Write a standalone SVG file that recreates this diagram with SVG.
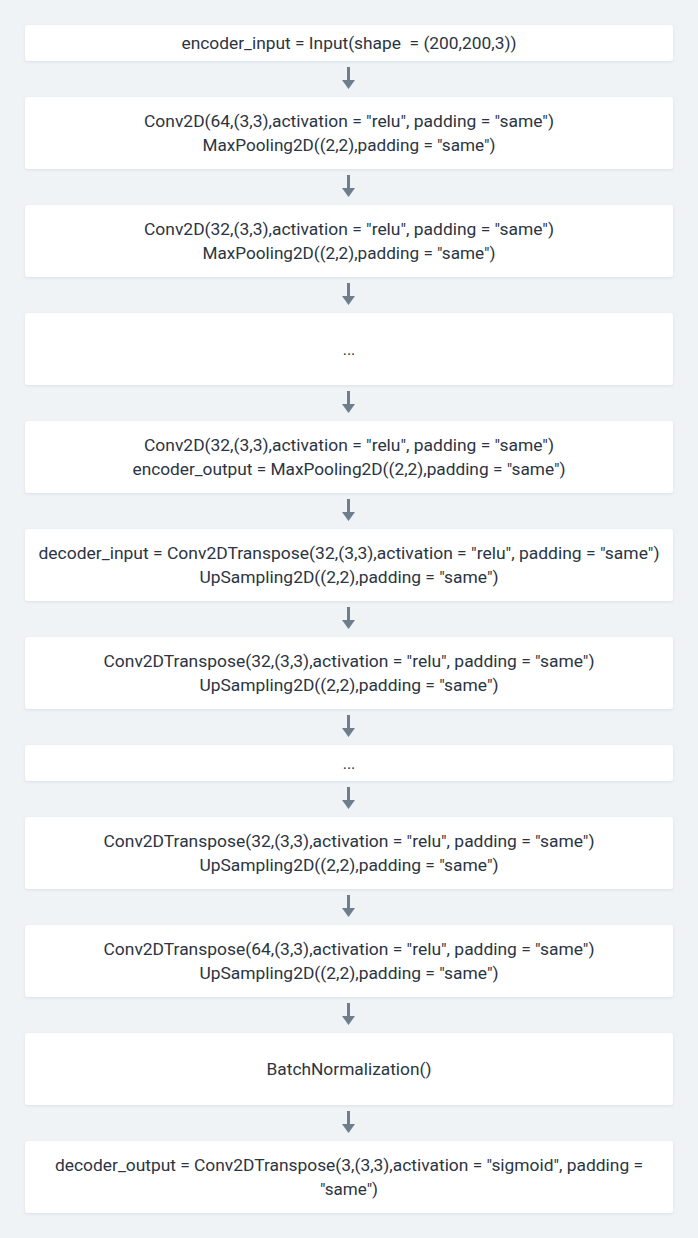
<svg xmlns="http://www.w3.org/2000/svg" width="698" height="1238" viewBox="0 0 698 1238">
<style>
.bg{fill:#eff3f6}
.box{fill:#ffffff;filter:url(#sh)}
.t{font-family:Roboto,"Liberation Sans",sans-serif;font-size:16px;fill:#2b3442;text-anchor:middle;dominant-baseline:central;white-space:pre}
.ln{stroke:#6f7e8d;stroke-width:3;fill:none}
.hd{fill:#6f7e8d}
</style>
<defs>
<filter id="sh" x="-5%" y="-20%" width="110%" height="150%">
<feDropShadow dx="0" dy="1" stdDeviation="1.5" flood-color="#9aa8b8" flood-opacity="0.25"/>
</filter>
</defs>
<rect class="bg" x="0" y="0" width="698" height="1238"/>
<g id="connectors">
<g><line class="ln" x1="348.5" y1="67" x2="348.5" y2="81"/><polygon class="hd" points="342,80 355,80 348.5,89"/></g>
<g><line class="ln" x1="348.5" y1="175" x2="348.5" y2="189"/><polygon class="hd" points="342,188 355,188 348.5,197"/></g>
<g><line class="ln" x1="348.5" y1="283" x2="348.5" y2="297"/><polygon class="hd" points="342,296 355,296 348.5,305"/></g>
<g><line class="ln" x1="348.5" y1="391" x2="348.5" y2="405"/><polygon class="hd" points="342,404 355,404 348.5,413"/></g>
<g><line class="ln" x1="348.5" y1="499" x2="348.5" y2="513"/><polygon class="hd" points="342,512 355,512 348.5,521"/></g>
<g><line class="ln" x1="348.5" y1="607" x2="348.5" y2="621"/><polygon class="hd" points="342,620 355,620 348.5,629"/></g>
<g><line class="ln" x1="348.5" y1="715" x2="348.5" y2="729"/><polygon class="hd" points="342,728 355,728 348.5,737"/></g>
<g><line class="ln" x1="348.5" y1="787" x2="348.5" y2="801"/><polygon class="hd" points="342,800 355,800 348.5,809"/></g>
<g><line class="ln" x1="348.5" y1="895" x2="348.5" y2="909"/><polygon class="hd" points="342,908 355,908 348.5,917"/></g>
<g><line class="ln" x1="348.5" y1="1003" x2="348.5" y2="1017"/><polygon class="hd" points="342,1016 355,1016 348.5,1025"/></g>
<g><line class="ln" x1="348.5" y1="1111" x2="348.5" y2="1125"/><polygon class="hd" points="342,1124 355,1124 348.5,1133"/></g>
</g>
<g id="n1"><rect class="box" x="25" y="25" width="648" height="36" rx="3"/><text class="t" x="349" y="43" textLength="335" lengthAdjust="spacingAndGlyphs">encoder_input = Input(shape  = (200,200,3))</text></g>
<g id="n2"><rect class="box" x="25" y="97" width="648" height="72" rx="3"/><text class="t" x="349" y="121" textLength="410" lengthAdjust="spacingAndGlyphs">Conv2D(64,(3,3),activation = "relu", padding = "same")</text><text class="t" x="349" y="145" textLength="293" lengthAdjust="spacingAndGlyphs">MaxPooling2D((2,2),padding = "same")</text></g>
<g id="n3"><rect class="box" x="25" y="205" width="648" height="72" rx="3"/><text class="t" x="349" y="229" textLength="410" lengthAdjust="spacingAndGlyphs">Conv2D(32,(3,3),activation = "relu", padding = "same")</text><text class="t" x="349" y="253" textLength="293" lengthAdjust="spacingAndGlyphs">MaxPooling2D((2,2),padding = "same")</text></g>
<g id="n4"><rect class="box" x="25" y="313" width="648" height="72" rx="3"/><text class="t" x="349" y="349">...</text></g>
<g id="n5"><rect class="box" x="25" y="421" width="648" height="72" rx="3"/><text class="t" x="349" y="445" textLength="410" lengthAdjust="spacingAndGlyphs">Conv2D(32,(3,3),activation = "relu", padding = "same")</text><text class="t" x="349" y="469" textLength="433" lengthAdjust="spacingAndGlyphs">encoder_output = MaxPooling2D((2,2),padding = "same")</text></g>
<g id="n6"><rect class="box" x="25" y="529" width="648" height="72" rx="3"/><text class="t" x="349" y="553" textLength="621" lengthAdjust="spacingAndGlyphs">decoder_input = Conv2DTranspose(32,(3,3),activation = "relu", padding = "same")</text><text class="t" x="349" y="577" textLength="299" lengthAdjust="spacingAndGlyphs">UpSampling2D((2,2),padding = "same")</text></g>
<g id="n7"><rect class="box" x="25" y="637" width="648" height="72" rx="3"/><text class="t" x="349" y="661" textLength="491" lengthAdjust="spacingAndGlyphs">Conv2DTranspose(32,(3,3),activation = "relu", padding = "same")</text><text class="t" x="349" y="685" textLength="299" lengthAdjust="spacingAndGlyphs">UpSampling2D((2,2),padding = "same")</text></g>
<g id="n8"><rect class="box" x="25" y="745" width="648" height="36" rx="3"/><text class="t" x="349" y="763">...</text></g>
<g id="n9"><rect class="box" x="25" y="817" width="648" height="72" rx="3"/><text class="t" x="349" y="841" textLength="491" lengthAdjust="spacingAndGlyphs">Conv2DTranspose(32,(3,3),activation = "relu", padding = "same")</text><text class="t" x="349" y="865" textLength="299" lengthAdjust="spacingAndGlyphs">UpSampling2D((2,2),padding = "same")</text></g>
<g id="n10"><rect class="box" x="25" y="925" width="648" height="72" rx="3"/><text class="t" x="349" y="949" textLength="491" lengthAdjust="spacingAndGlyphs">Conv2DTranspose(64,(3,3),activation = "relu", padding = "same")</text><text class="t" x="349" y="973" textLength="299" lengthAdjust="spacingAndGlyphs">UpSampling2D((2,2),padding = "same")</text></g>
<g id="n11"><rect class="box" x="25" y="1033" width="648" height="72" rx="3"/><text class="t" x="349" y="1069" textLength="165" lengthAdjust="spacingAndGlyphs">BatchNormalization()</text></g>
<g id="n12"><rect class="box" x="25" y="1141" width="648" height="72" rx="3"/><text class="t" x="349" y="1165" textLength="588" lengthAdjust="spacingAndGlyphs">decoder_output = Conv2DTranspose(3,(3,3),activation = "sigmoid", padding =</text><text class="t" x="349" y="1189" textLength="58" lengthAdjust="spacingAndGlyphs">"same")</text></g>
</svg>
